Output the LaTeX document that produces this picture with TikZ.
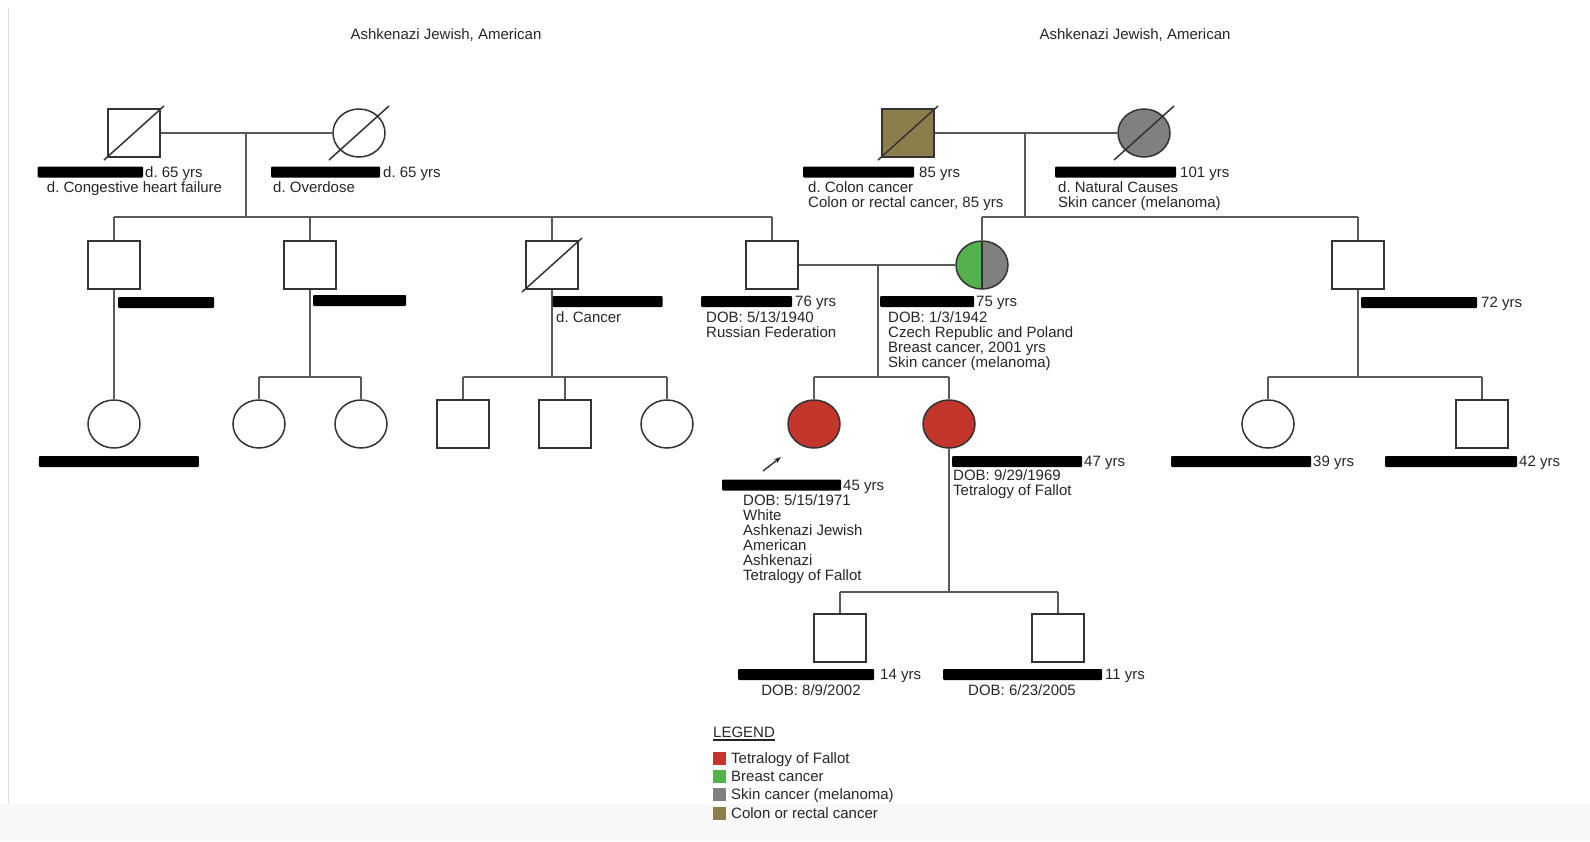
\documentclass[tikz,border=0pt]{standalone}
\usepackage{fontspec}
\setmainfont{Liberation Sans}
\usetikzlibrary{shapes.geometric,calc,arrows.meta}
\definecolor{fallot}{HTML}{C4352B}
\definecolor{breast}{HTML}{55B04E}
\definecolor{skin}{HTML}{808080}
\definecolor{colon}{HTML}{8C7E4C}
\definecolor{band}{HTML}{F8F8F8}
\definecolor{txt}{HTML}{262626}
\frenchspacing
\begin{document}
\begin{tikzpicture}[x=1pt,y=-1pt,
  male/.style={draw=black!80, line width=1.5pt, rectangle, minimum width=52, minimum height=48, inner sep=0},
  female/.style={draw=black!80, line width=1.5pt, ellipse, minimum width=52, minimum height=48, inner sep=0},
  line/.style={draw=black!65, line width=1.3pt},
  slash/.style={draw=black!80, line width=1.5pt},
  redact/.style={fill=black, rounded corners=1pt, inner sep=0, minimum height=11, minimum width=#1, anchor=west},
  lbl/.style={text=txt, font=\fontsize{15}{15}\selectfont, inner sep=0, align=left},
  swatch/.style={minimum size=13, inner sep=0, anchor=west}]
\useasboundingbox (0,0) rectangle (1590,841);
\fill[band] (0,804) rectangle (1590,841);
\draw[black!12, line width=1pt] (8,8) -- (8,804);
\node[lbl] (hdra) at (446,35) {Ashkenazi Jewish, American};
\node[lbl] (hdrb) at (1135,35) {Ashkenazi Jewish, American};
% grandparents
\node[male] (gfa) at (134,133) {};
\node[female] (gma) at (359,133) {};
\node[male, fill=colon] (gfb) at (908,133) {};
\node[female, fill=skin] (gmb) at (1144,133) {};
\foreach \k in {gfa,gma,gfb,gmb}
  \draw[slash] ($(\k.center)+(-30,27)$) -- ($(\k.center)+(30,-27)$);
\draw[line] (gfa.east) -- (gma.west);
\draw[line] (gfb.east) -- (gmb.west);
\coordinate (ua) at (246,133);
\coordinate (sa) at (246,217);
\coordinate (ub) at (1025,133);
\coordinate (sb) at (1025,217);
\draw[line] (ua) -- (sa);
\draw[line] (ub) -- (sb);
% parents generation
\node[male] (pa) at (114,265) {};
\node[male] (pb) at (310,265) {};
\node[male] (pc) at (552,265) {};
\node[male] (dad) at (772,265) {};
\node[female, path picture={
  \fill[breast] (path picture bounding box.south west) rectangle (path picture bounding box.north);
  \fill[skin] (path picture bounding box.south) rectangle (path picture bounding box.north east);
  \draw[black!80, line width=1.5pt] (path picture bounding box.south) -- (path picture bounding box.north);}]
  (mom) at (982,265) {};
\node[male] (pf) at (1358,265) {};
\draw[slash] ($(pc.center)+(-30,27)$) -- ($(pc.center)+(30,-27)$);
\draw[line] (pa.north |- sa) -- (dad.north |- sa);
\foreach \k in {pa,pb,pc,dad}
  \draw[line] (\k.north) -- (\k.north |- sa);
\draw[line] (mom.north |- sb) -- (pf.north |- sb);
\foreach \k in {mom,pf}
  \draw[line] (\k.north) -- (\k.north |- sb);
\draw[line] (dad.east) -- (mom.west);
% children generation
\node[female] (ca) at (114,424) {};
\node[female] (cb) at (259,424) {};
\node[female] (cc) at (361,424) {};
\node[male] (cd) at (463,424) {};
\node[male] (ce) at (565,424) {};
\node[female] (cf) at (667,424) {};
\node[female, fill=fallot] (prob) at (814,424) {};
\node[female, fill=fallot] (sis) at (949,424) {};
\node[female] (ch) at (1268,424) {};
\node[male] (ci) at (1482,424) {};
\draw[line] (pa.south) -- (ca.north);
\coordinate (sd) at (310,377);
\draw[line] (pb.south) -- (sd);
\draw[line] (cb.north |- sd) -- (cc.north |- sd);
\foreach \k in {cb,cc}
  \draw[line] (\k.north) -- (\k.north |- sd);
\coordinate (se) at (552,377);
\draw[line] (pc.south) -- (se);
\draw[line] (cd.north |- se) -- (cf.north |- se);
\foreach \k in {cd,ce,cf}
  \draw[line] (\k.north) -- (\k.north |- se);
\coordinate (uc) at (878,265);
\coordinate (sc) at (878,377);
\draw[line] (uc) -- (sc);
\draw[line] (prob.north |- sc) -- (sis.north |- sc);
\foreach \k in {prob,sis}
  \draw[line] (\k.north) -- (\k.north |- sc);
\coordinate (sg) at (1358,377);
\draw[line] (pf.south) -- (sg);
\draw[line] (ch.north |- sg) -- (ci.north |- sg);
\foreach \k in {ch,ci}
  \draw[line] (\k.north) -- (\k.north |- sg);
% grandchildren
\node[male] (ga) at (840,638) {};
\node[male] (gb) at (1058,638) {};
\coordinate (sh) at (949,592);
\draw[line] (sis.south) -- (sh);
\draw[line] (ga.north |- sh) -- (gb.north |- sh);
\foreach \k in {ga,gb}
  \draw[line] (\k.north) -- (\k.north |- sh);
% proband arrow
\coordinate (arrtail) at (763,471);
\coordinate (arrtip) at (781,457);
\draw[line, black!85, -{Stealth[length=7pt,width=5pt]}] (arrtail) -- (arrtip);
% labels, grandparents
\node[redact=105.5] (gfabar) at (37.5,172) {};
\node[lbl, anchor=base west] (gfaage) at (145,177) {d. 65 yrs};
\node[lbl, anchor=base] (gfainfo) at (134.5,192) {d. Congestive heart failure};
\node[redact=109] (gmabar) at (271,172) {};
\node[lbl, anchor=base west] (gmaage) at (383,177) {d. 65 yrs};
\node[lbl, anchor=base west] (gmainfo) at (273,192) {d. Overdose};
\node[redact=111] (gfbbar) at (803,172) {};
\node[lbl, anchor=base west] (gfbage) at (919,177) {85 yrs};
\node[lbl, anchor=north west] (gfbinfo) at (808,181.6) {d. Colon cancer\\Colon or rectal cancer, 85 yrs};
\node[redact=121] (gmbbar) at (1055,172) {};
\node[lbl, anchor=base west] (gmbage) at (1180,177) {101 yrs};
\node[lbl, anchor=north west] (gmbinfo) at (1058,181.6) {d. Natural Causes\\Skin cancer (melanoma)};
% labels, parents generation
\node[redact=96] (pabar) at (118,302.5) {};
\node[redact=93] (pbbar) at (313,300.5) {};
\node[redact=110] (pcbar) at (552.5,301.5) {};
\node[lbl, anchor=base west] (pcinfo) at (556,322) {d. Cancer};
\node[redact=91] (dadbar) at (701,301.5) {};
\node[lbl, anchor=base west] (dadage) at (795,306.5) {76 yrs};
\node[lbl, anchor=north west] (dadinfo) at (706,311.6) {DOB: 5/13/1940\\Russian Federation};
\node[redact=94] (mombar) at (880,301.5) {};
\node[lbl, anchor=base west] (momage) at (976,306.5) {75 yrs};
\node[lbl, anchor=north west] (mominfo) at (888,311.6) {DOB: 1/3/1942\\Czech Republic and Poland\\Breast cancer, 2001 yrs\\Skin cancer (melanoma)};
\node[redact=116] (pfbar) at (1361,302.5) {};
\node[lbl, anchor=base west] (pfage) at (1481,307.5) {72 yrs};
% labels, children generation
\node[redact=160] (cabar) at (38.6,461.5) {};
\node[redact=119] (probbar) at (722,485) {};
\node[lbl, anchor=base west] (probage) at (843,490) {45 yrs};
\node[lbl, anchor=north west] (probinfo) at (743,494.6) {DOB: 5/15/1971\\White\\Ashkenazi Jewish\\American\\Ashkenazi\\Tetralogy of Fallot};
\node[redact=130] (sisbar) at (952,461.5) {};
\node[lbl, anchor=base west] (sisage) at (1084,466.5) {47 yrs};
\node[lbl, anchor=north west] (sisinfo) at (953,469.6) {DOB: 9/29/1969\\Tetralogy of Fallot};
\node[redact=140] (chbar) at (1171,461.5) {};
\node[lbl, anchor=base west] (chage) at (1313,466.5) {39 yrs};
\node[redact=132] (cibar) at (1385,461.5) {};
\node[lbl, anchor=base west] (ciage) at (1519,466.5) {42 yrs};
% labels, grandchildren
\node[redact=136] (gabar) at (738,674.5) {};
\node[lbl, anchor=base west] (gaage) at (880,679.5) {14 yrs};
\node[lbl, anchor=base] (gainfo) at (811,695) {DOB: 8/9/2002};
\node[redact=159] (gbbar) at (943,674.5) {};
\node[lbl, anchor=base west] (gbage) at (1105,679.5) {11 yrs};
\node[lbl, anchor=base] (gbinfo) at (1022,695) {DOB: 6/23/2005};
% legend
\node[lbl, anchor=base west] (leg) at (713,737) {LEGEND};
\draw[txt, line width=1.5pt] ($(leg.base west)+(0,3)$) -- ($(leg.base east)+(0,3)$);
\foreach \c/\t [count=\i] in {fallot/Tetralogy of Fallot, breast/Breast cancer, skin/Skin cancer (melanoma), colon/Colon or rectal cancer} {
  \node[swatch, fill=\c] (key\i) at (713,{758+18.4*(\i-1)}) {};
  \node[lbl, anchor=base west] (keytxt\i) at (731,{763+18.4*(\i-1)}) {\t};
}
\end{tikzpicture}
\end{document}
